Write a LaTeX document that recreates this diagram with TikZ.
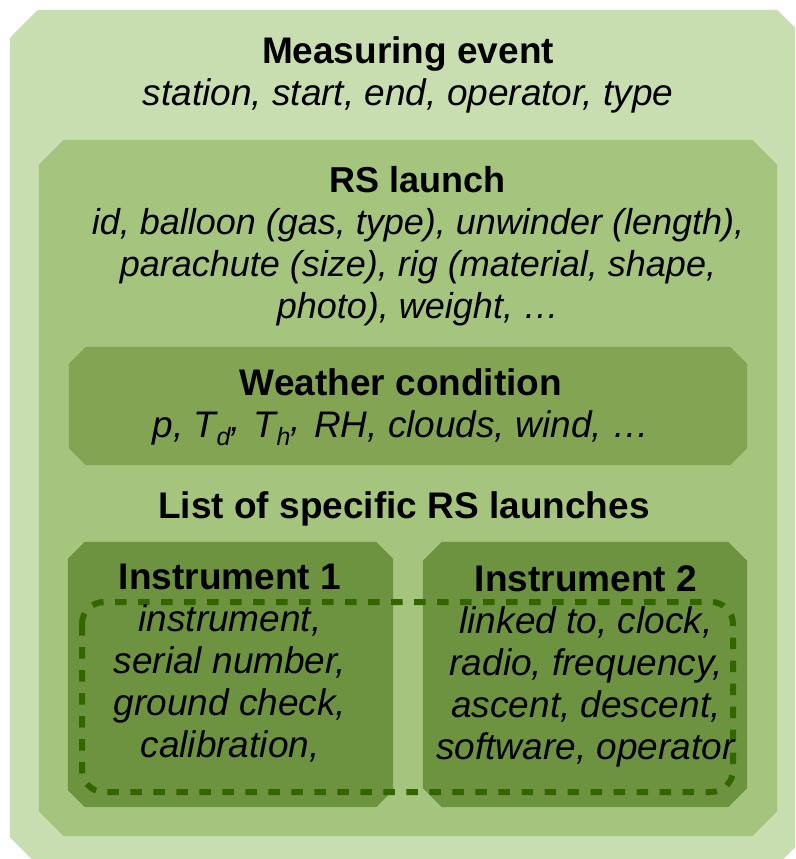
\documentclass[tikz,border=0pt]{standalone}
\usepackage{fontspec}
\setmainfont{Liberation Sans}

\definecolor{eventgreen}{RGB}{200,222,176}
\definecolor{launchgreen}{RGB}{165,196,126}
\definecolor{weathergreen}{RGB}{131,165,83}
\definecolor{instgreen}{RGB}{110,147,64}
\definecolor{listgreen}{RGB}{51,102,0}

% fill the chamfered outline of a named node: node, chamfer, colour
\newcommand{\chamfill}[3]{%
    \fill[#3] ([xshift=#2]#1.north west) -- ([xshift=-#2]#1.north east)
        -- ([yshift=-#2]#1.north east) -- ([yshift=#2]#1.south east)
        -- ([xshift=-#2]#1.south east) -- ([xshift=#2]#1.south west)
        -- ([yshift=#2]#1.south west) -- ([yshift=-#2]#1.north west) -- cycle;}
\newcommand{\subit}[1]{\raisebox{-8pt}{\fontsize{25}{25}\selectfont\textit{#1}}\raisebox{6pt}{,}\hspace{3pt}}

\tikzset{
    boxbase/.style={rectangle, inner sep=0pt, draw=none},
    boxtext/.style={anchor=north, align=center, inner sep=0pt, font=\fontsize{37}{42}\selectfont},
    listline/.style={draw=listgreen, line width=6pt, dash pattern=on 11.5pt off 11.5pt, rounded corners=22pt}
}

\begin{document}
\begin{tikzpicture}[x=1pt, y=-1pt]
        \useasboundingbox (0,0) rectangle (795,859);
        \begin{scope}
            \clip (0,0) rectangle (795,859);

            % nested boxes
            \node[boxbase, minimum width=795pt, minimum height=855pt] (event) at (407.5,437.5) {};
            \chamfill{event}{28pt}{eventgreen}
            \node[boxbase, minimum width=738pt, minimum height=696pt] (launch) at (408,488) {};
            \chamfill{launch}{25pt}{launchgreen}
            \node[boxbase, minimum width=678pt, minimum height=118pt] (weather) at (408,406) {};
            \chamfill{weather}{17pt}{weathergreen}
            \node[boxbase, minimum width=325pt, minimum height=265pt] (inst1) at (230.5,674.5) {};
            \chamfill{inst1}{17pt}{instgreen}
            \node[boxbase, minimum width=324pt, minimum height=265pt] (inst2) at (585,674.5) {};
            \chamfill{inst2}{19pt}{instgreen}

            % list of launches
            \coordinate (listnw) at (82,602);
            \coordinate (listse) at (733,792);
            \draw[listline] (listnw) rectangle (listse);

            % texts
            \node[boxtext] (eventtext) at (408,36)
                {\textbf{Measuring event}\\ \textit{station, start, end, operator, type}};
            \node[boxtext, font=\fontsize{36}{42}\selectfont] (launchtext) at (418,166)
                {\textbf{RS launch}\\ \textit{id, balloon (gas, type), unwinder (length),}\\
                 \textit{parachute (size), rig (material, shape,}\\ \textit{photo), weight, \dots}};
            \node[boxtext] (weathertext) at (401,368)
                {\textbf{Weather condition}\\
                 \textit{p, T\subit{d} T\subit{h} RH, clouds, wind, …}};
            \node[boxtext] (listtext) at (404,491) {\textbf{List of specific RS launches}};
            \node[boxtext] (inst1text) at (230,564)
                {\textbf{Instrument 1}\\ \textit{instrument,}\\ \textit{serial number,}\\
                 \textit{ground check,}\\ \textit{calibration,}};
            \node[boxtext] (inst2text) at (586,565)
                {\textbf{Instrument 2}\\ \textit{linked to, clock,}\\ \textit{radio, frequency,}\\
                 \textit{ascent, descent,}\\ \textit{software, operator}};
        \end{scope}
    \end{tikzpicture}
\end{document}
